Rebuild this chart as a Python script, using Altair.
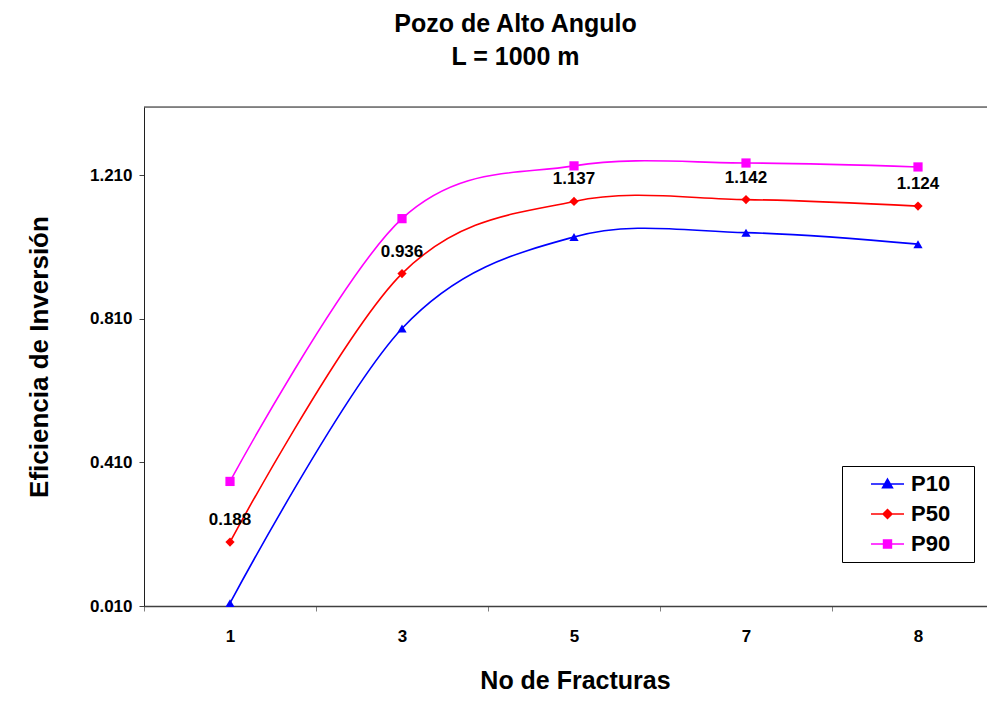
import altair as alt
import pandas as pd

# ---- data ----
categories = ["1", "3", "5", "7", "8"]
series_names = ["P10", "P50", "P90"]
p10 = [0.018, 0.783, 1.038, 1.050, 1.018]
p50 = [0.188, 0.936, 1.137, 1.142, 1.124]
p90 = [0.357, 1.089, 1.236, 1.244, 1.233]
p50_labels = ["0.188", "0.936", "1.137", "1.142", "1.124"]
y_ticks = [0.010, 0.410, 0.810, 1.210]
y_domain = [0.010, 1.400]

colors = ["#0000FF", "#FF0000", "#FF00FF"]
marker_shapes = ["triangle-up", "diamond", "square"]
legend_shapes = [
    "M-1,0H1M0,-0.3L0.3,0.22L-0.3,0.22Z",
    "M-1,0H1M0,-0.27L0.27,0L0,0.27L-0.27,0Z",
    "M-1,0H1M-0.24,-0.24H0.24V0.24H-0.24Z",
]
marker_keys = [s + " marcador" for s in series_names]

# category position index (categories are evenly spaced, as in the original category axis)
cat_index = {c: i for i, c in enumerate(categories)}

rows = []
for name, key, vals in zip(series_names, marker_keys, [p10, p50, p90]):
    for c, v in zip(categories, vals):
        rows.append({"fracturas": c, "pos": cat_index[c], "serie": name,
                     "marcador": key, "valor": v})
df = pd.DataFrame(rows)
lab = pd.DataFrame({"fracturas": categories, "pos": [cat_index[c] for c in categories],
                    "valor": p50, "etiqueta": p50_labels})
top = pd.DataFrame({"valor": [y_domain[1]]})

FONT = "Liberation Sans"
PLOT_W = 843
BAND_PX = 172  # width of one category slot in the original (last slot is cut by the frame)

x_domain = [-0.5, -0.5 + PLOT_W / BAND_PX]
boundary_ticks = [i - 0.5 for i in range(len(categories))]
cat_js = "[" + ",".join("'" + c + "'" for c in categories) + "]"

xscale = alt.Scale(domain=x_domain, nice=False, zero=False)
yscale = alt.Scale(domain=y_domain, nice=False, zero=False)
cscale = alt.Scale(domain=series_names, range=colors)
shape_scale = alt.Scale(domain=series_names + marker_keys, range=legend_shapes + marker_shapes)

x_enc = alt.X(
    "pos:Q", scale=xscale,
    axis=alt.Axis(
        title="No de Fracturas", values=boundary_ticks,
        labelExpr=cat_js + "[round(datum.value + 0.5)]",
        labelOffset=BAND_PX / 2, labelAngle=0, labelAlign="center",
        labelFont=FONT, labelFontSize=17, labelFontWeight="bold", labelColor="black",
        labelPadding=17, tickSize=5, tickColor="#808080", domainColor="#404040",
        domainWidth=1.5, labelFlush=False, labelOverlap=False,
        titleFont=FONT, titleFontSize=25, titleFontWeight="bold", titleColor="black",
        titlePadding=24, titleX=431, grid=False,
    ),
)
y_enc = alt.Y(
    "valor:Q", scale=yscale,
    axis=alt.Axis(
        title="Eficiencia de Inversión", values=y_ticks, format=".3f",
        labelFont=FONT, labelFontSize=17, labelFontWeight="bold", labelColor="black",
        labelPadding=7, tickSize=5, tickColor="#404040", domainColor="#202020",
        titleFont=FONT, titleFontSize=26, titleFontWeight="bold", titleColor="black",
        titlePadding=37, grid=False,
    ),
)

base = alt.Chart(df)

lines = base.mark_line(interpolate="cardinal", strokeWidth=1.6).encode(
    x=x_enc, y=y_enc,
    color=alt.Color("serie:N", scale=cscale, legend=None),
    detail="serie:N",
)

legend_color = {"expr": "scale('color', datum.value)"}

points = base.mark_point(filled=True, size=85, opacity=1).encode(
    x=x_enc, y=y_enc,
    color=alt.Color("serie:N", scale=cscale, legend=None),
    shape=alt.Shape(
        "marcador:N", scale=shape_scale,
        legend=alt.Legend(
            values=series_names, orient="none", legendX=698, legendY=359,
            title="\u00a0", titleOrient="right", titlePadding=21, titleFontSize=22,
            labelFont=FONT, labelFontSize=22, labelFontWeight="bold", labelColor="black",
            symbolSize=1089, clipHeight=30, rowPadding=0, labelOffset=6,
            strokeColor="black", fillColor="white", padding=3,
            symbolOffset=25, symbolFillColor=legend_color,
            symbolStrokeColor=legend_color, symbolStrokeWidth=1.5, symbolOpacity=1,
        ),
    ),
)

texts = alt.Chart(lab).mark_text(
    dy=-22, font=FONT, fontSize=17, fontWeight="bold", color="black"
).encode(x=x_enc, y=y_enc, text="etiqueta:N")

top_rule = alt.Chart(top).mark_rule(color="#202020", strokeWidth=1).encode(
    y=alt.Y("valor:Q", scale=yscale)
)

chart = (
    alt.layer(top_rule, lines, points, texts)
    .properties(
        width=PLOT_W, height=499,
        autosize=alt.AutoSizeParams(type="none"),
        padding={"left": 136, "top": 99, "right": 0, "bottom": 88},
        title=alt.TitleParams(
            ["Pozo de Alto Angulo", "L = 1000 m"],
            font=FONT, fontSize=25, fontWeight="bold", color="black",
            lineHeight=33, anchor="middle", dx=-50, offset=37,
        ),
    )
    .configure_view(stroke=None)
    .configure(background="white")
)

chart.save("out.html", embed_options={"renderer": "svg", "actions": False})
